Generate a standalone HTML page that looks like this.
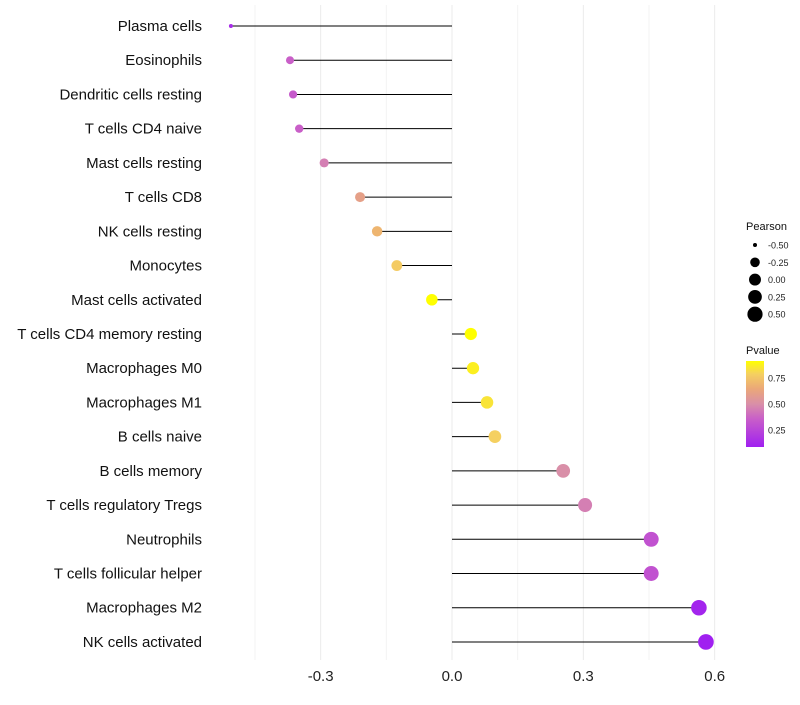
<!DOCTYPE html>
<html><head><meta charset="utf-8"><style>
body{margin:0;background:#fff;font-family:"Liberation Sans",sans-serif}
</style></head><body>
<svg id="chart" width="800" height="700" xmlns="http://www.w3.org/2000/svg" font-family="Liberation Sans, sans-serif">
<defs><linearGradient id="pg" x1="0" y1="1" x2="0" y2="0">
<stop offset="0" stop-color="#a020f0"/><stop offset="0.33" stop-color="#c95fc8"/><stop offset="0.5" stop-color="#d98fa8"/><stop offset="0.68" stop-color="#eba878"/><stop offset="0.85" stop-color="#f5d060"/><stop offset="1" stop-color="#ffff00"/></linearGradient></defs>
<g id="grid"></g><g id="marks"></g><g id="labels"></g><g id="legend"></g>
</svg>
<script>
const categories=["Plasma cells","Eosinophils","Dendritic cells resting","T cells CD4 naive","Mast cells resting","T cells CD8","NK cells resting","Monocytes","Mast cells activated","T cells CD4 memory resting","Macrophages M0","Macrophages M1","B cells naive","B cells memory","T cells regulatory  Tregs ","Neutrophils","T cells follicular helper","Macrophages M2","NK cells activated"];
const pearson=[-0.505,-0.37,-0.363,-0.349,-0.292,-0.21,-0.171,-0.126,-0.046,0.043,0.048,0.08,0.098,0.254,0.304,0.455,0.455,0.564,0.58];
const pvalues=[0.15,0.35,0.33,0.35,0.45,0.6,0.7,0.78,0.92,0.92,0.88,0.85,0.8,0.5,0.45,0.3,0.3,0.12,0.1];
const xTicks=[-0.3,0,0.3,0.6];
const xTickLabels=["-0.3","0.0","0.3","0.6"];
const xMinor=[-0.45,-0.15,0.15,0.45];
const sizeLegend=[-0.5,-0.25,0,0.25,0.5];
const sizeLegendLabels=["-0.50","-0.25","0.00","0.25","0.50"];
const pLegend=[0.75,0.5,0.25];
const NS="http://www.w3.org/2000/svg";
const X=v=>452+v*437.8;
const Y=i=>26+i*34.22;
const R=v=>2+5.6*Math.sqrt(Math.max(0,v+0.5));
const stops=[[0.1,[160,32,240]],[0.35,[201,95,200]],[0.5,[217,143,168]],[0.65,[235,168,120]],[0.8,[245,208,96]],[0.92,[255,255,0]]];
function col(p){if(p<=stops[0][0])return`rgb(${stops[0][1]})`;for(let k=1;k<stops.length;k++){if(p<=stops[k][0]){const a=stops[k-1],b=stops[k],t=(p-a[0])/(b[0]-a[0]);return`rgb(${a[1].map((c,j)=>Math.round(c+(b[1][j]-c)*t))})`;}}return"rgb(255,255,0)";}
function mk(tag,attrs,parent,text){const e=document.createElementNS(NS,tag);for(const k in attrs)e.setAttribute(k,attrs[k]);if(text!==undefined)e.textContent=text;document.getElementById(parent).appendChild(e);return e;}
xMinor.forEach(v=>{const e=mk("line",{x1:X(v),x2:X(v),y1:5,y2:660,stroke:"#f3f3f3","stroke-width":1},"grid");

});
xTicks.forEach((v,i)=>{const e=mk("line",{x1:X(v),x2:X(v),y1:5,y2:660,stroke:"#ebebeb","stroke-width":1},"grid");


const t=mk("text",{x:X(v),y:681,"text-anchor":"middle","font-size":15,fill:"#222"},"labels",xTickLabels[i]);

});
categories.forEach((c,i)=>{const y=Y(i);
const l=mk("line",{x1:X(0),x2:X(pearson[i]),y1:y,y2:y,stroke:"#000","stroke-width":1},"marks");


const d=mk("circle",{cx:X(pearson[i]),cy:y,r:R(pearson[i]),fill:col(pvalues[i])},"marks");


const t=mk("text",{x:202,y:y+5,"text-anchor":"end","font-size":15,fill:"#111"},"labels",c);

});
let e=mk("text",{x:746,y:230,"font-size":11,fill:"#111"},"legend","Pearson");


sizeLegend.forEach((v,i)=>{const y=245+i*17.3;
const c=mk("circle",{cx:755,cy:y,r:R(v),fill:"#000"},"legend");


const t=mk("text",{x:768,y:y+3.5,"font-size":9,fill:"#222"},"legend",sizeLegendLabels[i]);

});
e=mk("text",{x:746,y:354,"font-size":11,fill:"#111"},"legend","Pvalue");


e=mk("rect",{x:746,y:361,width:18,height:86,fill:"url(#pg)"},"legend");


pLegend.forEach(v=>{const y=456-v*104;
const t=mk("text",{x:768,y:y+3.5,"font-size":9,fill:"#222"},"legend",v.toFixed(2));

});
</script>
</body></html>
